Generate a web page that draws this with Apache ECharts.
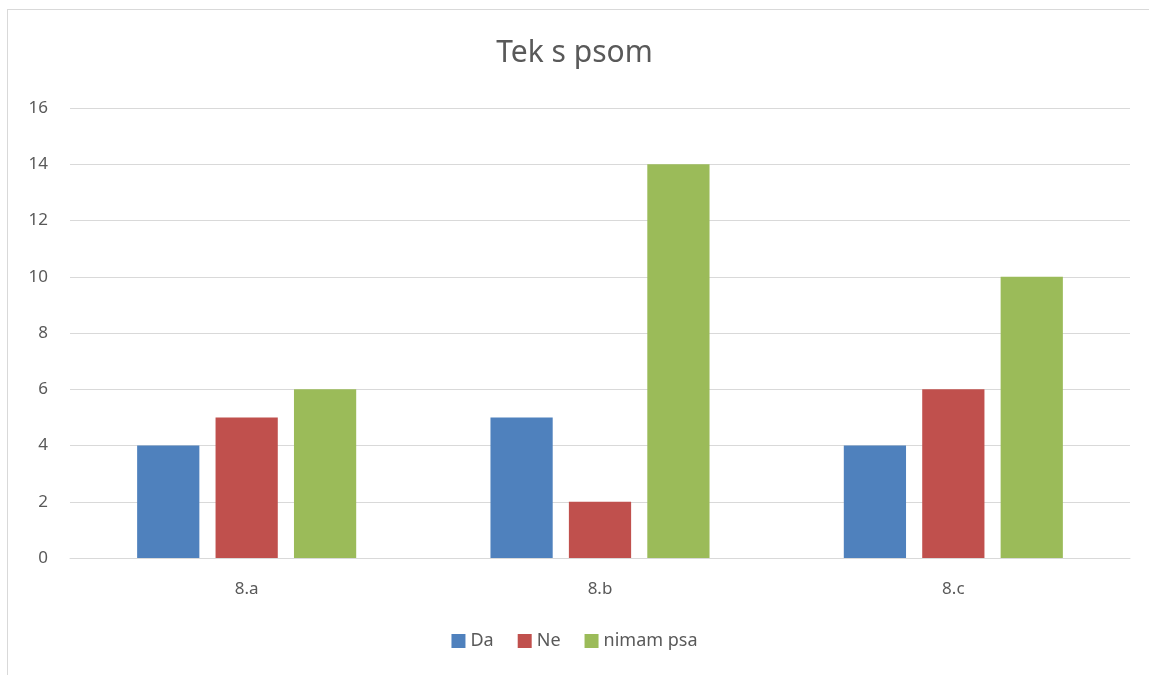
<!DOCTYPE html>
<html><head><meta charset="utf-8">
<script src="https://cdn.jsdelivr.net/npm/echarts@6/dist/echarts.min.js"></script>
<style>
html,body{margin:0;padding:0;background:#fff;}
#wrap{position:relative;width:1149px;height:675px;overflow:hidden;}
#frame{position:absolute;left:7px;top:9px;width:1160px;height:680px;border:1px solid #d9d9d9;box-sizing:border-box;}
#chart{position:absolute;left:0;top:0;width:1149px;height:675px;}
</style></head>
<body><div id="wrap"><div id="frame"></div><div id="chart"></div></div>
<script>
const categories = ['8.a', '8.b', '8.c'];
const seriesNames = ['Da', 'Ne', 'nimam psa'];
const da = [4, 5, 4];
const ne = [5, 2, 6];
const nimamPsa = [6, 14, 10];
const colors = ['#4F81BD', '#C0504D', '#9BBB59'];
const values = [da, ne, nimamPsa];
const font = "'Noto Sans', 'Liberation Sans', sans-serif";
const chart = echarts.init(document.getElementById('chart'));
chart.setOption({
  animation: false,
  title: {text: 'Tek s psom', left: 'center', top: 33,
    textStyle: {fontFamily: font, fontSize: 30, fontWeight: 'normal', color: '#595959'}},
  legend: {bottom: 20, left: 'center', itemWidth: 14, itemHeight: 14, itemGap: 24,
    icon: 'rect', textStyle: {fontFamily: font, fontSize: 18, color: '#595959'},
    data: seriesNames},
  grid: {left: 70, right: 19, top: 108, bottom: 117},
  xAxis: {type: 'category', data: categories,
    axisLine: {lineStyle: {color: '#d9d9d9'}}, axisTick: {show: false},
    axisLabel: {fontFamily: font, fontSize: 17, color: '#595959', margin: 23}},
  yAxis: {type: 'value', min: 0, max: 16, interval: 2,
    axisLine: {show: false}, axisTick: {show: false},
    splitLine: {lineStyle: {color: '#d9d9d9'}},
    axisLabel: {fontFamily: font, fontSize: 17, color: '#595959', margin: 22}},
  series: seriesNames.map((n, i) => ({
    name: n, type: 'bar', data: values[i], barGap: '26%', barCategoryGap: '38%',
    itemStyle: {color: colors[i]}
  }))
});
</script></body></html>
